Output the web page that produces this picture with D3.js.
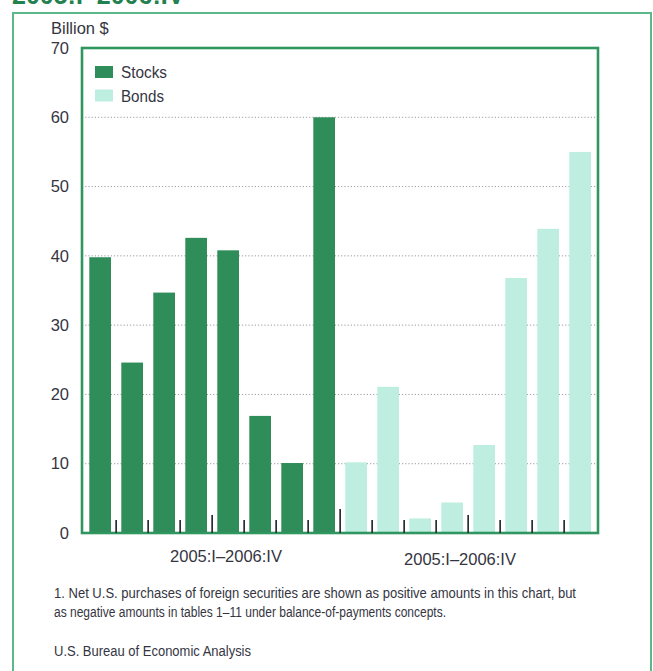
<!DOCTYPE html>
<html>
<head>
<meta charset="utf-8">
<script src="https://cdn.jsdelivr.net/npm/d3@7"></script>
<style>
  html, body { margin: 0; padding: 0; background: #ffffff; }
  svg { display: block; font-family: "Liberation Sans", Arial, Helvetica, sans-serif; }
</style>
</head>
<body>
<svg id="chart" width="653" height="671"></svg>
<script>
// ---- data ----
const quarters = ["2005:I", "2005:II", "2005:III", "2005:IV", "2006:I", "2006:II", "2006:III", "2006:IV"];
const stocks = [39.8, 24.6, 34.7, 42.6, 40.8, 16.9, 10.1, 60.0];
const bonds = [10.2, 21.1, 2.1, 4.4, 12.7, 36.8, 43.9, 55.0];
const seriesNames = ["Stocks", "Bonds"];
const yTicks = [0, 10, 20, 30, 40, 50, 60, 70];
const groupLabels = ["2005:I\u20132006:IV", "2005:I\u20132006:IV"];
const titleTail = "2005:I\u20132006:IV";
const yUnit = "Billion $";
const footnote = [
  "1. Net U.S. purchases of foreign securities are shown as positive amounts in this chart, but",
  "as negative amounts in tables 1\u201311 under balance-of-payments concepts."
];
const source = "U.S. Bureau of Economic Analysis";

// ---- styles ----
const colors = { Stocks: "#2f8d5a", Bonds: "#bdeee0" };
const textColor = "#35353f";
const frameGreen = "#2f9660";
const outerGreen = "#5bb888";

const svg = d3.select("#chart");

// combined table
const rows = [];
seriesNames.forEach((s, si) => {
  const vals = si === 0 ? stocks : bonds;
  quarters.forEach((q, qi) => rows.push({ key: s + " " + q, series: s, quarter: q, qi: qi, value: vals[qi] }));
});

const plot = { left: 82, right: 598, top: 48, bottom: 533 };

const x = d3.scaleBand()
  .domain(rows.map(d => d.key))
  .range([plot.left, plot.right + 0.3])
  .paddingInner(0.322)
  .paddingOuter(0.228);

const y = d3.scaleLinear().domain([0, 70]).range([plot.bottom, plot.top]);

// partial title at top (cut off by the picture's edge, as in the reference)
svg.append("text")
  .attr("x", 12).attr("y", 3.5)
  .attr("font-size", 25).attr("font-weight", "bold")
  .attr("fill", "#23804f")
  .text(titleTail);

// outer frame
svg.append("rect")
  .attr("x", 13).attr("y", 13)
  .attr("width", 638).attr("height", 700)
  .attr("fill", "none").attr("stroke", outerGreen).attr("stroke-width", 2);

// gridlines
svg.append("g")
  .selectAll("line")
  .data(yTicks.filter(t => t > 0 && t < 70))
  .join("line")
  .attr("x1", plot.left).attr("x2", plot.right)
  .attr("y1", d => y(d)).attr("y2", d => y(d))
  .attr("stroke", "#9a9aa4").attr("stroke-width", 1)
  .attr("stroke-dasharray", "1.2,2");

// bars
svg.append("g")
  .selectAll("rect")
  .data(rows)
  .join("rect")
  .attr("x", d => x(d.key))
  .attr("width", x.bandwidth())
  .attr("y", d => y(d.value))
  .attr("height", d => y(0) - y(d.value))
  .attr("fill", d => colors[d.series]);

// plot frame
svg.append("rect")
  .attr("x", plot.left).attr("y", plot.top)
  .attr("width", plot.right - plot.left).attr("height", plot.bottom - plot.top)
  .attr("fill", "none").attr("stroke", frameGreen).attr("stroke-width", 2.6);

// category separators (ticks)
const gap = x.step() - x.bandwidth();
const sep = rows.slice(0, rows.length - 1).map((d, i) => {
  let h = 13;
  if (i === 7) h = 24;
  else if (d.qi === 3) h = 18;
  return { xpos: x(d.key) + x.bandwidth() + gap / 2, h: h };
});
svg.append("g")
  .selectAll("line")
  .data(sep)
  .join("line")
  .attr("x1", d => d.xpos).attr("x2", d => d.xpos)
  .attr("y1", plot.bottom).attr("y2", d => plot.bottom - d.h)
  .attr("stroke", "#2c2c36").attr("stroke-width", 1.7);

// y axis labels
const yAxis = d3.axisLeft(y).tickValues(yTicks).tickSize(0).tickPadding(13);
const yg = svg.append("g").attr("transform", `translate(${plot.left},0)`).call(yAxis);
yg.select(".domain").remove();
yg.selectAll("text").attr("font-size", 16.5).attr("fill", textColor)
  .attr("font-family", "Liberation Sans, Arial, sans-serif");

svg.append("text")
  .attr("x", 51).attr("y", 34)
  .attr("font-size", 16.5).attr("fill", textColor)
  .text(yUnit);

// legend
const leg = svg.append("g");
seriesNames.forEach((s, i) => {
  leg.append("rect")
    .attr("x", 95).attr("y", 66 + i * 23.5)
    .attr("width", 18).attr("height", 12)
    .attr("fill", colors[s]);
  leg.append("text")
    .attr("x", 121).attr("y", 78 + i * 23.5)
    .attr("font-size", 16).attr("fill", textColor)
    .attr("textLength", i === 0 ? 46 : 43).attr("lengthAdjust", "spacingAndGlyphs")
    .text(s);
});

// group labels
const groupPos = [{ x: 226, y: 562 }, { x: 460, y: 565 }];
svg.append("g")
  .selectAll("text")
  .data(groupLabels)
  .join("text")
  .attr("x", (d, i) => groupPos[i].x).attr("y", (d, i) => groupPos[i].y)
  .attr("text-anchor", "middle")
  .attr("font-size", 16.5).attr("fill", textColor)
  .text(d => d);

// footnote
svg.append("text")
  .attr("x", 54).attr("y", 598)
  .attr("font-size", 14).attr("fill", textColor)
  .attr("textLength", 522).attr("lengthAdjust", "spacingAndGlyphs")
  .text(footnote[0]);
svg.append("text")
  .attr("x", 54).attr("y", 617)
  .attr("font-size", 14).attr("fill", textColor)
  .attr("textLength", 392).attr("lengthAdjust", "spacingAndGlyphs")
  .text(footnote[1]);
svg.append("text")
  .attr("x", 54).attr("y", 656)
  .attr("font-size", 14).attr("fill", textColor)
  .attr("textLength", 197).attr("lengthAdjust", "spacingAndGlyphs")
  .text(source);
</script>
</body>
</html>
